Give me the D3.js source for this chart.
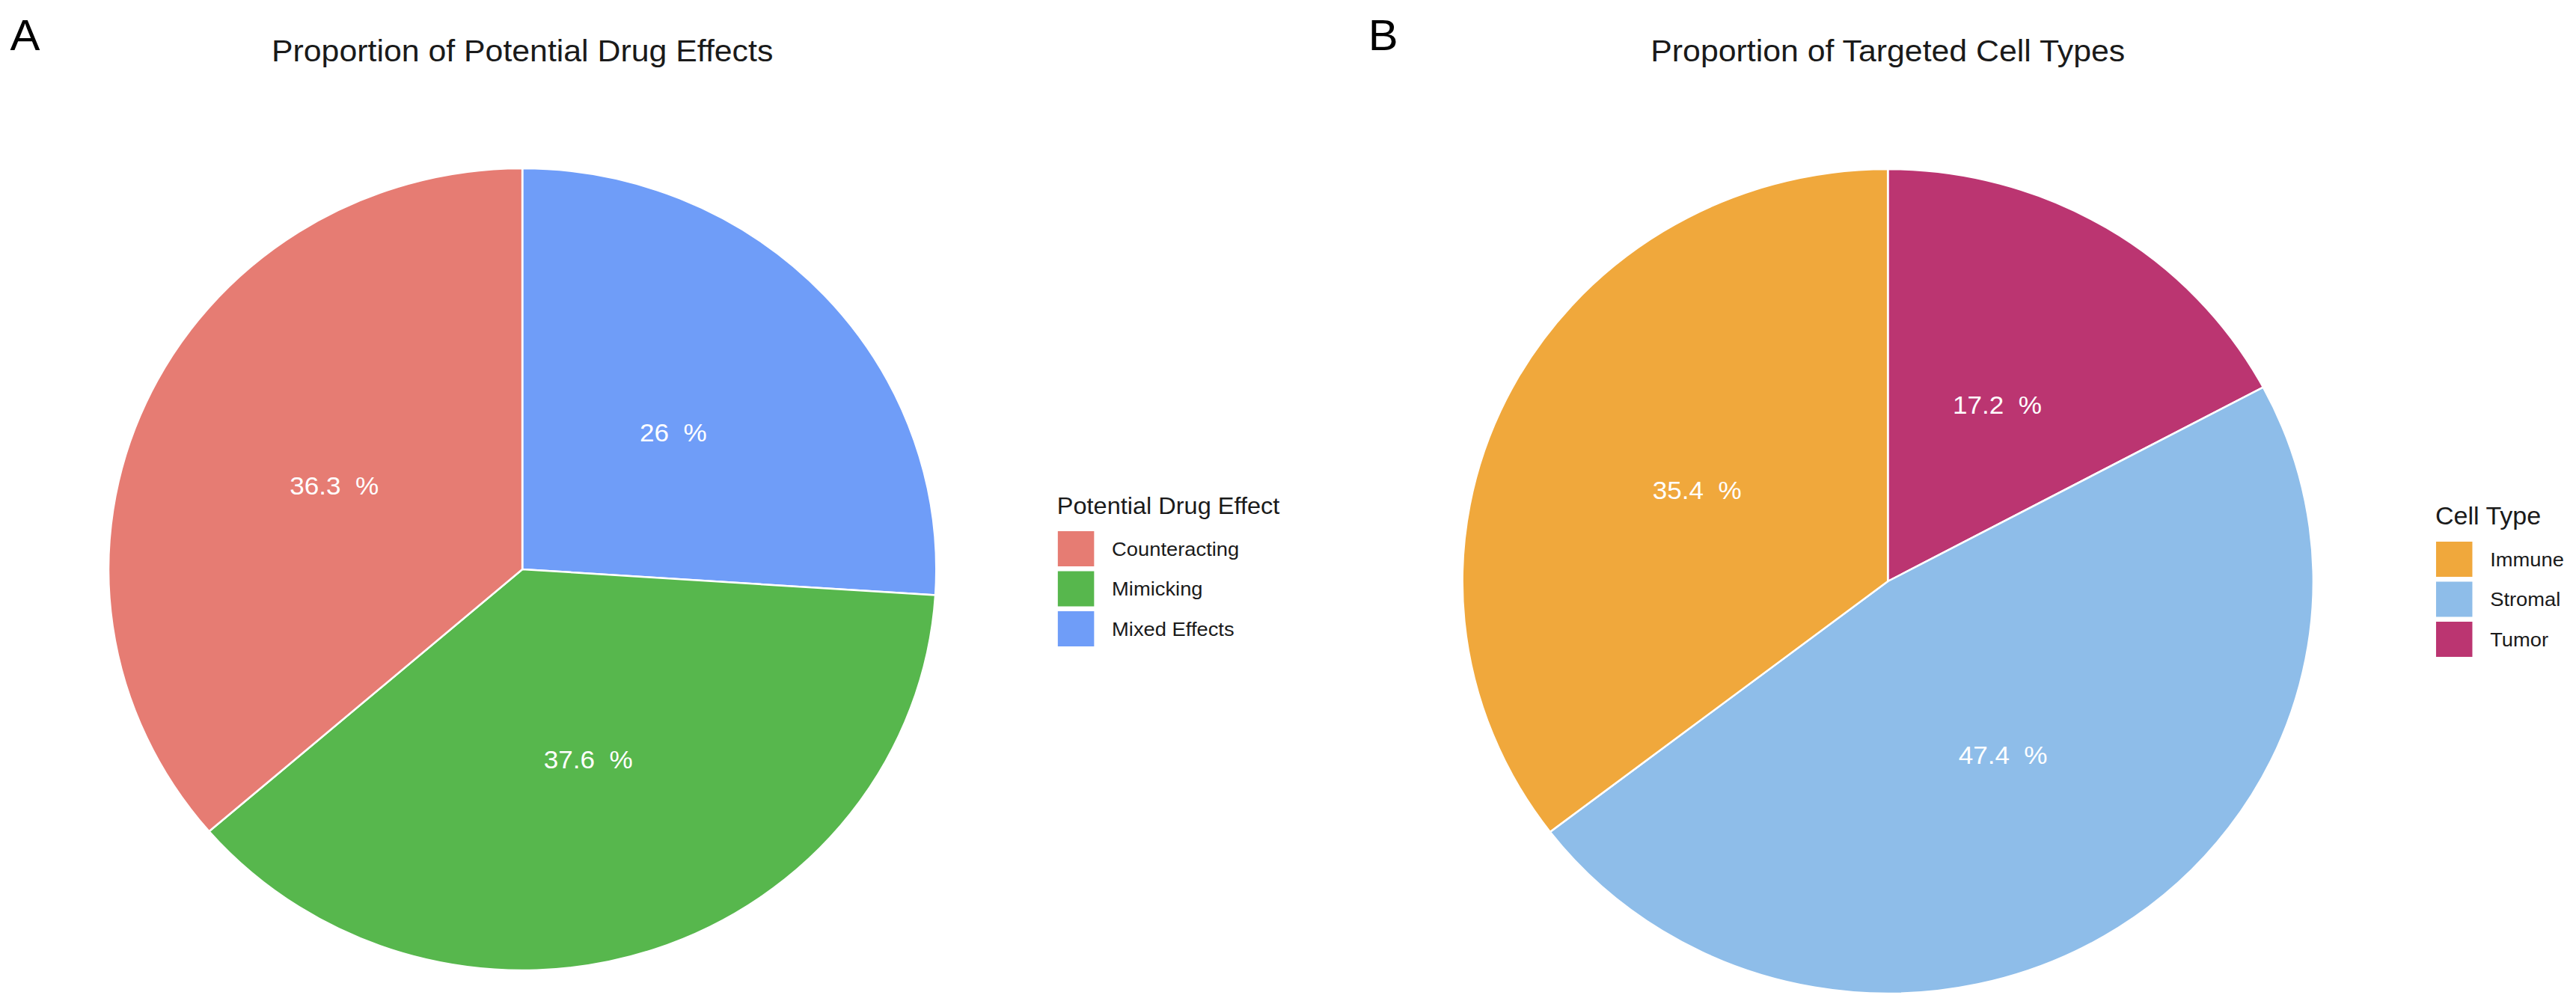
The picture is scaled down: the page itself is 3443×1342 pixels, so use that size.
<!DOCTYPE html>
<html>
<head>
<meta charset="utf-8">
<script src="https://cdn.jsdelivr.net/npm/d3@7"></script>
<style>
    html, body { margin: 0; padding: 0; background: #fff; }
    text { font-family: "Liberation Sans", Arial, Helvetica, sans-serif; }
</style>
</head>
<body>
<div id="chart"></div>
<script>
// panel A
var effectCategories = ['Counteracting', 'Mimicking', 'Mixed Effects'];
var effectValues = [36.3, 37.6, 26];
var effectColors = ['#E67C73', '#57B74D', '#6F9DF8'];

// panel B
var cellCategories = ['Immune', 'Stromal', 'Tumor'];
var cellValues = [35.4, 47.4, 17.2];
var cellColors = ['#F0A83C', '#8EBDE9', '#BB3571'];

var W = 3443, H = 1342,
    stretch = 1.032; // the reference is a little wider than tall

function PiePanel(root, config) {
    this.root = root;
    this.config = config;
}

PiePanel.prototype.draw = function() {
    var c = this.config,
        g = this.root.append('g');

    g.append('text')
        .attr('x', c.tag.x).attr('y', c.tag.y)
        .attr('font-size', 58).attr('fill', '#000')
        .text(c.tag.text);

    g.append('text')
        .attr('x', c.cx).attr('y', 82)
        .attr('text-anchor', 'middle')
        .attr('font-size', 41.5).attr('fill', '#1a1a1a')
        .text(c.title);

    var rows = c.categories.map(function(d, i) {
        return { name: d, value: c.values[i], color: c.colors[i] };
    });

    var color = d3.scaleOrdinal().domain(c.categories).range(c.colors);

    // clockwise from 12 o'clock the slices run last category first
    var pie = d3.pie().sort(null).value(function(d) { return d.value; });
    var arcs = pie(rows.slice().reverse());
    var arc = d3.arc().innerRadius(0).outerRadius(c.r);
    var labelArc = d3.arc().innerRadius(c.r * 0.5).outerRadius(c.r * 0.5);

    var p = g.append('g').attr('transform', 'translate(' + c.cx + ',' + c.cy + ')');
    p.selectAll('path').data(arcs).enter().append('path')
        .attr('d', arc)
        .attr('fill', function(d) { return color(d.data.name); })
        .attr('stroke', '#fff')
        .attr('stroke-width', 2.5);

    p.selectAll('text').data(arcs).enter().append('text')
        .attr('transform', function(d) { return 'translate(' + labelArc.centroid(d) + ')'; })
        .attr('text-anchor', 'middle')
        .attr('dy', '0.35em')
        .attr('font-size', 34)
        .attr('fill', '#fff')
        .style('white-space', 'pre')
        .text(function(d) { return d.data.value + '  %'; });

    // legend
    var n = c.categories.length,
        step = 53.5, gap = 6.5;
    var lg = g.append('g').attr('transform', 'translate(' + c.legend.x + ',' + c.legend.y + ')');
    lg.append('text')
        .attr('x', 0).attr('y', 0)
        .attr('font-size', c.legend.size).attr('fill', '#1a1a1a')
        .text(c.legend.title);
    var y = d3.scaleBand().domain(c.categories)
        .range([23, 23 + n * step - gap])
        .paddingInner(gap / step);
    var item = lg.selectAll('g.item').data(rows).enter().append('g')
        .attr('class', 'item')
        .attr('transform', function(d) { return 'translate(1,' + y(d.name) + ')'; });
    item.append('rect')
        .attr('width', 47).attr('height', y.bandwidth())
        .attr('fill', function(d) { return color(d.name); });
    item.append('text')
        .attr('x', 70).attr('y', y.bandwidth() / 2)
        .attr('dy', '0.35em')
        .attr('font-size', 26.5).attr('fill', '#1a1a1a')
        .text(function(d) { return d.name; });
};

var svg = d3.select('#chart').append('svg')
    .attr('width', W).attr('height', H);
var root = svg.append('g').attr('transform', 'scale(' + stretch + ',1)');

new PiePanel(root, {
    tag: { text: 'A', x: 13, y: 67 },
    title: 'Proportion of Potential Drug Effects',
    categories: effectCategories, values: effectValues, colors: effectColors,
    cx: 676.5, cy: 761, r: 536,
    legend: { title: 'Potential Drug Effect', x: 1369, y: 687, size: 31.5 }
}).draw();

new PiePanel(root, {
    tag: { text: 'B', x: 1772, y: 67 },
    title: 'Proportion of Targeted Cell Types',
    categories: cellCategories, values: cellValues, colors: cellColors,
    cx: 2445, cy: 777, r: 551,
    legend: { title: 'Cell Type', x: 3154, y: 701, size: 33 }
}).draw();
</script>
</body>
</html>
